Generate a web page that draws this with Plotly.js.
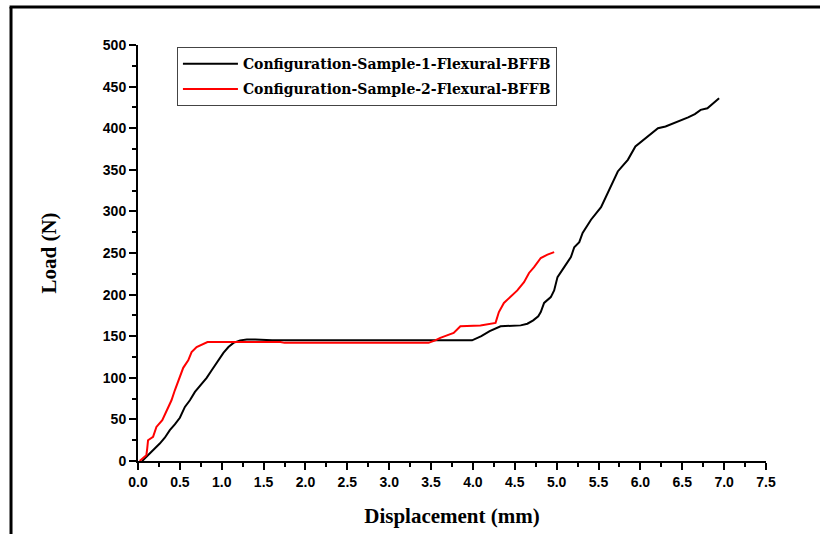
<!DOCTYPE html>
<html>
<head>
<meta charset="utf-8">
<script src="https://cdn.plot.ly/plotly-3.0.1.min.js"></script>
<style>
  html, body { margin: 0; padding: 0; background: #fff; }
  #chart { width: 820px; height: 534px; }
</style>
</head>
<body>
<div id="chart"></div>
<script>
// Sample 1 (black)
const s1Name = "Configuration-Sample-1-Flexural-BFFB";
const s1X = [0.05,0.10,0.14,0.20,0.26,0.32,0.38,0.44,0.50,0.56,0.62,0.68,0.75,0.82,0.88,0.94,1.02,1.08,1.14,1.22,1.30,1.40,1.60,2.0,2.5,3.0,3.5,3.99,4.10,4.20,4.33,4.57,4.65,4.72,4.78,4.81,4.85,4.93,4.97,5.01,5.09,5.17,5.21,5.27,5.31,5.41,5.53,5.61,5.65,5.73,5.79,5.85,5.94,6.04,6.12,6.21,6.30,6.40,6.50,6.57,6.65,6.72,6.80,6.87,6.94];
const s1Y = [0,5,9,14,21,28,37,44,52,65,73,83,91,100,109,118,130,137,142,145,146,146,145,145,145,145,145,145,150,156,162,163,165,169,174,179,190,197,205,221,233,245,257,263,274,290,305,322,332,348,355,362,378,386,393,400,402,406,410,413,417,422,424,430,436];

// Sample 2 (red)
const s2Name = "Configuration-Sample-2-Flexural-BFFB";
const s2X = [0.02,0.06,0.10,0.11,0.12,0.18,0.22,0.29,0.35,0.40,0.44,0.50,0.54,0.60,0.64,0.70,0.76,0.83,1.0,1.5,1.7,1.75,2.0,2.5,3.0,3.47,3.55,3.61,3.69,3.77,3.85,4.09,4.27,4.29,4.31,4.37,4.45,4.53,4.61,4.67,4.73,4.81,4.89,4.97];
const s2Y = [0,3,7,15,25,29,41,49,63,73,85,101,112,121,131,137,140,143,143,143,143,142,142,142,142,142,145,148,151,154,162,163,166,172,179,190,197,205,215,226,233,244,248,251];

const xTitle = "Displacement (mm)";
const yTitle = "Load (N)";

const traces = [
  {x: s1X, y: s1Y, name: s1Name, type: "scatter", mode: "lines", legendgroup: "g1",
   line: {color: "#000000", width: 2}},
  {x: s2X, y: s2Y, name: s2Name, type: "scatter", mode: "lines", legendgroup: "g2",
   line: {color: "#ff0000", width: 2}}
];

const tickFont = {family: "Liberation Sans, Arial, sans-serif", size: 14, color: "#000", weight: "bold"};
const titleFont = {family: "Liberation Serif, Times New Roman, serif", size: 21, color: "#000", weight: "bold"};

const layout = {
  width: 820, height: 534,
  margin: {l: 138, r: 54, t: 45, b: 73},
  paper_bgcolor: "#fff", plot_bgcolor: "#fff",
  showlegend: true,
  legend: {
    x: 0.062, y: 0.995, xanchor: "left", yanchor: "top",
    bgcolor: "#fff", bordercolor: "#444", borderwidth: 1,
    font: {family: "DejaVu Serif, serif", size: 14, color: "#000", weight: "bold"},
    tracegroupgap: 4, itemwidth: 55
  },
  xaxis: {
    range: [0, 7.5], dtick: 0.5, tick0: 0, tickformat: ".1f",
    showgrid: false, zeroline: false,
    showline: true, linecolor: "#000", linewidth: 2,
    ticks: "outside", ticklen: 7, tickwidth: 2, tickcolor: "#000",
    minor: {dtick: 0.25, ticks: "outside", ticklen: 4, tickwidth: 2, tickcolor: "#000", showgrid: false},
    tickfont: tickFont,
    title: {text: xTitle, font: titleFont, standoff: 20},
    fixedrange: true
  },
  yaxis: {
    range: [0, 500], dtick: 50, tick0: 0,
    showgrid: false, zeroline: false,
    showline: true, linecolor: "#000", linewidth: 2,
    ticks: "outside", ticklen: 7, tickwidth: 2, tickcolor: "#000",
    minor: {dtick: 25, ticks: "outside", ticklen: 4, tickwidth: 2, tickcolor: "#000", showgrid: false},
    tickfont: tickFont,
    title: {text: yTitle, font: titleFont, standoff: 40},
    fixedrange: true
  },
  shapes: [
    {type: "line", xref: "paper", yref: "paper", x0: -0.2022, x1: -0.2022, y0: 1.0913, y1: -0.2,
     line: {color: "#000", width: 3}},
    {type: "line", xref: "paper", yref: "paper", x0: -0.2045, x1: 1.11, y0: 1.0913, y1: 1.0913,
     line: {color: "#000", width: 3}}
  ]
};

Plotly.newPlot("chart", traces, layout, {displayModeBar: false, staticPlot: true});
</script>
</body>
</html>
